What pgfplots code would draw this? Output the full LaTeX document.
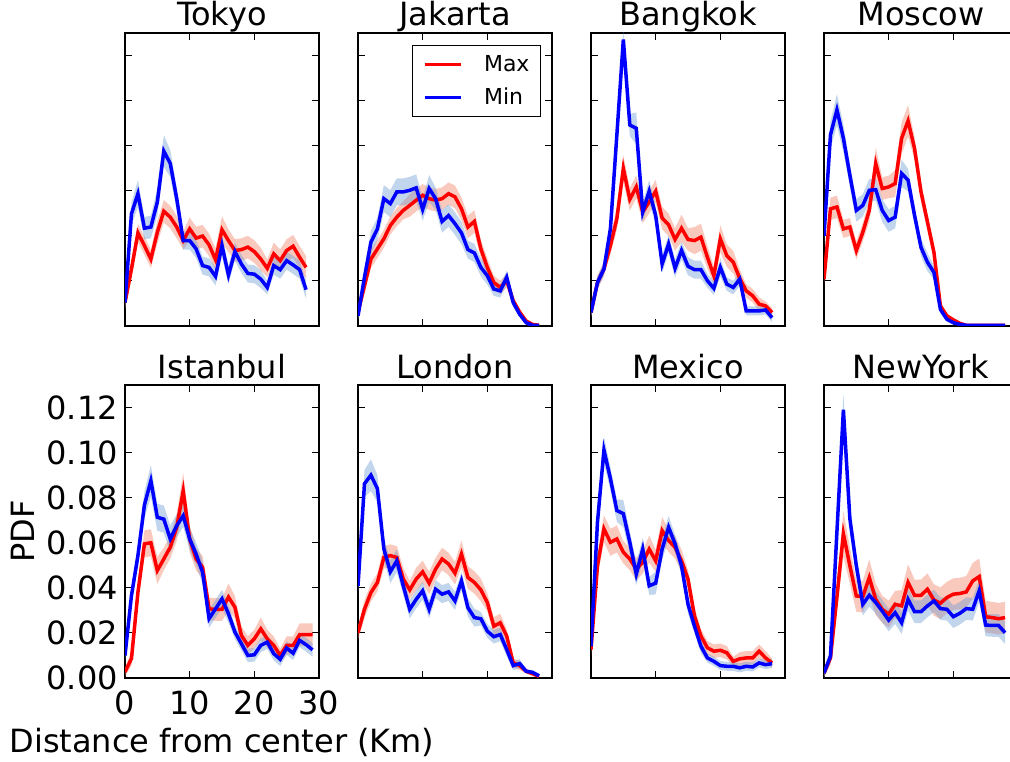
\documentclass[border=0pt]{standalone}
\usepackage{fontspec}
\setmainfont{DejaVu Sans}
\usepackage{pgfplots}
\usepackage{pgfplotstable}
\pgfplotsset{compat=1.18}
\usepgfplotslibrary{fillbetween}

\definecolor{redband}{RGB}{240,120,90}
\definecolor{blueband}{RGB}{100,150,210}

% columns: distance, Max mean, Max spread, Min mean, Min spread
\pgfplotstableread{
x mx mxe mn mne
0 0.0104 0.003 0.0104 0.003
1 0.0253 0.004 0.0498 0.005
2 0.0413 0.004 0.0587 0.006
3 0.0357 0.004 0.0434 0.005
4 0.0297 0.004 0.0439 0.005
5 0.0416 0.005 0.0550 0.006
6 0.0509 0.005 0.0776 0.007
7 0.0483 0.005 0.0721 0.006
8 0.0439 0.005 0.0565 0.005
9 0.0379 0.004 0.0379 0.004
10 0.0431 0.005 0.0379 0.004
11 0.0390 0.005 0.0342 0.004
12 0.0399 0.005 0.0268 0.004
13 0.0360 0.005 0.0260 0.004
14 0.0294 0.005 0.0220 0.004
15 0.0427 0.006 0.0357 0.005
16 0.0379 0.005 0.0226 0.004
17 0.0335 0.005 0.0330 0.004
18 0.0339 0.005 0.0275 0.004
19 0.0350 0.005 0.0233 0.004
20 0.0330 0.005 0.0230 0.004
21 0.0297 0.005 0.0208 0.004
22 0.0256 0.004 0.0171 0.003
23 0.0320 0.005 0.0268 0.004
24 0.0290 0.005 0.0250 0.004
25 0.0335 0.005 0.0290 0.004
26 0.0354 0.005 0.0271 0.004
27 0.0305 0.005 0.0250 0.004
28 0.0260 0.005 0.0161 0.004
}\tokyo

\pgfplotstableread{
x mx mxe mn mne
0 0.0060 0.002 0.0045 0.002
1 0.0178 0.003 0.0216 0.004
2 0.0297 0.004 0.0372 0.005
3 0.0342 0.004 0.0431 0.005
4 0.0387 0.004 0.0565 0.006
5 0.0446 0.004 0.0543 0.006
6 0.0483 0.004 0.0595 0.006
7 0.0513 0.004 0.0595 0.006
8 0.0535 0.005 0.0602 0.006
9 0.0558 0.005 0.0613 0.006
10 0.0580 0.005 0.0517 0.005
11 0.0565 0.005 0.0610 0.006
12 0.0558 0.005 0.0565 0.005
13 0.0565 0.005 0.0464 0.005
14 0.0587 0.005 0.0490 0.005
15 0.0573 0.005 0.0454 0.005
16 0.0520 0.005 0.0413 0.005
17 0.0439 0.005 0.0339 0.004
18 0.0464 0.005 0.0324 0.004
19 0.0342 0.004 0.0260 0.004
20 0.0260 0.004 0.0223 0.004
21 0.0193 0.003 0.0164 0.003
22 0.0171 0.003 0.0156 0.003
23 0.0201 0.003 0.0216 0.003
24 0.0112 0.002 0.0104 0.002
25 0.0062 0.001 0.0052 0.001
26 0.0022 0.001 0.0015 0.001
27 0.0007 0.0005 0.0003 0.0005
28 0.0003 0.0005 0.0003 0.0005
}\jakarta

\pgfplotstableread{
x mx mxe mn mne
0 0.0060 0.002 0.0060 0.002
1 0.0193 0.003 0.0193 0.003
2 0.0253 0.003 0.0253 0.003
3 0.0357 0.004 0.0431 0.004
4 0.0476 0.005 0.0848 0.004
5 0.0699 0.006 0.1271 0.004
6 0.0562 0.005 0.0892 0.005
7 0.0617 0.005 0.0877 0.007
8 0.0506 0.005 0.0506 0.004
9 0.0550 0.005 0.0598 0.005
10 0.0598 0.005 0.0491 0.004
11 0.0479 0.005 0.0275 0.004
12 0.0449 0.005 0.0364 0.004
13 0.0384 0.005 0.0256 0.004
14 0.0434 0.006 0.0335 0.004
15 0.0384 0.005 0.0265 0.004
16 0.0379 0.006 0.0250 0.004
17 0.0394 0.006 0.0250 0.004
18 0.0305 0.005 0.0201 0.003
19 0.0223 0.004 0.0167 0.003
20 0.0387 0.006 0.0260 0.004
21 0.0312 0.005 0.0186 0.003
22 0.0283 0.005 0.0171 0.003
23 0.0211 0.004 0.0208 0.003
24 0.0156 0.003 0.0067 0.002
25 0.0134 0.003 0.0067 0.002
26 0.0097 0.003 0.0067 0.002
27 0.0089 0.002 0.0071 0.002
28 0.0060 0.002 0.0037 0.002
}\bangkok

\pgfplotstableread{
x mx mxe mn mne
0 0.0208 0.003 0.0400 0.004
1 0.0520 0.005 0.0848 0.006
2 0.0528 0.005 0.0959 0.007
3 0.0431 0.004 0.0833 0.006
4 0.0439 0.004 0.0669 0.005
5 0.0335 0.004 0.0513 0.005
6 0.0416 0.004 0.0535 0.005
7 0.0513 0.005 0.0602 0.005
8 0.0721 0.007 0.0605 0.005
9 0.0610 0.005 0.0513 0.005
10 0.0617 0.005 0.0468 0.005
11 0.0632 0.006 0.0483 0.005
12 0.0833 0.007 0.0677 0.006
13 0.0910 0.007 0.0647 0.005
14 0.0788 0.005 0.0491 0.004
15 0.0595 0.004 0.0349 0.004
16 0.0461 0.004 0.0283 0.004
17 0.0327 0.003 0.0238 0.003
18 0.0089 0.002 0.0074 0.002
19 0.0045 0.001 0.0030 0.001
20 0.0027 0.001 0.0015 0.001
21 0.0012 0.0005 0.0007 0.0005
22 0.0003 0.0005 0.0003 0.0005
23 0.0003 0.0005 0.0003 0.0005
24 0.0003 0.0005 0.0003 0.0005
25 0.0003 0.0005 0.0003 0.0005
26 0.0003 0.0005 0.0003 0.0005
27 0.0003 0.0005 0.0003 0.0005
28 0.0003 0.0005 0.0003 0.0005
}\moscow

\pgfplotstableread{
x mx mxe mn mne
0 0.0027 0.002 0.0100 0.003
1 0.0086 0.003 0.0366 0.004
2 0.0380 0.004 0.0543 0.005
3 0.0595 0.006 0.0767 0.006
4 0.0600 0.006 0.0875 0.007
5 0.0477 0.006 0.0713 0.006
6 0.0528 0.005 0.0705 0.006
7 0.0580 0.005 0.0617 0.006
8 0.0669 0.006 0.0676 0.005
9 0.0830 0.008 0.0720 0.005
10 0.0617 0.006 0.0617 0.005
11 0.0528 0.005 0.0550 0.005
12 0.0491 0.005 0.0469 0.005
13 0.0307 0.005 0.0263 0.004
14 0.0304 0.005 0.0307 0.004
15 0.0304 0.005 0.0351 0.004
16 0.0359 0.006 0.0285 0.004
17 0.0314 0.005 0.0204 0.003
18 0.0189 0.004 0.0152 0.003
19 0.0145 0.004 0.0100 0.003
20 0.0174 0.004 0.0103 0.003
21 0.0218 0.005 0.0145 0.003
22 0.0174 0.004 0.0159 0.003
23 0.0145 0.004 0.0108 0.003
24 0.0100 0.003 0.0083 0.003
25 0.0145 0.004 0.0133 0.003
26 0.0145 0.004 0.0110 0.003
27 0.0192 0.005 0.0167 0.003
28 0.0192 0.005 0.0148 0.003
29 0.0192 0.005 0.0125 0.003
}\istanbul

\pgfplotstableread{
x mx mxe mn mne
0 0.0201 0.003 0.0409 0.004
1 0.0305 0.004 0.0862 0.006
2 0.0379 0.004 0.0900 0.007
3 0.0424 0.004 0.0840 0.006
4 0.0535 0.005 0.0573 0.005
5 0.0543 0.005 0.0471 0.005
6 0.0535 0.005 0.0520 0.005
7 0.0439 0.005 0.0409 0.004
8 0.0391 0.004 0.0305 0.004
9 0.0439 0.005 0.0349 0.004
10 0.0471 0.005 0.0387 0.004
11 0.0421 0.005 0.0305 0.004
12 0.0483 0.005 0.0394 0.004
13 0.0528 0.005 0.0372 0.004
14 0.0506 0.005 0.0382 0.004
15 0.0465 0.005 0.0342 0.004
16 0.0550 0.006 0.0431 0.004
17 0.0446 0.005 0.0312 0.004
18 0.0424 0.005 0.0268 0.004
19 0.0391 0.005 0.0263 0.003
20 0.0335 0.004 0.0208 0.003
21 0.0230 0.004 0.0183 0.003
22 0.0245 0.004 0.0193 0.003
23 0.0186 0.003 0.0126 0.003
24 0.0067 0.002 0.0055 0.002
25 0.0055 0.002 0.0064 0.002
26 0.0030 0.001 0.0030 0.001
27 0.0019 0.001 0.0025 0.001
28 0.0007 0.0005 0.0010 0.0005
}\london

\pgfplotstableread{
x mx mxe mn mne
0 0.0126 0.003 0.0141 0.003
1 0.0498 0.005 0.0691 0.005
2 0.0662 0.006 0.1011 0.006
3 0.0602 0.006 0.0885 0.005
4 0.0617 0.006 0.0743 0.005
5 0.0558 0.005 0.0729 0.006
6 0.0528 0.005 0.0602 0.005
7 0.0483 0.005 0.0461 0.005
8 0.0513 0.005 0.0572 0.005
9 0.0572 0.006 0.0409 0.004
10 0.0520 0.005 0.0421 0.005
11 0.0654 0.006 0.0572 0.005
12 0.0610 0.005 0.0669 0.005
13 0.0580 0.005 0.0595 0.004
14 0.0520 0.005 0.0498 0.004
15 0.0439 0.004 0.0327 0.004
16 0.0275 0.004 0.0230 0.003
17 0.0186 0.003 0.0141 0.003
18 0.0134 0.003 0.0089 0.002
19 0.0119 0.003 0.0074 0.002
20 0.0123 0.003 0.0055 0.002
21 0.0112 0.003 0.0052 0.002
22 0.0074 0.002 0.0052 0.002
23 0.0085 0.003 0.0045 0.002
24 0.0089 0.003 0.0052 0.002
25 0.0089 0.003 0.0049 0.002
26 0.0119 0.003 0.0067 0.002
27 0.0089 0.003 0.0059 0.002
28 0.0067 0.002 0.0064 0.002
}\mexico

\pgfplotstableread{
x mx mxe mn mne
0 0.0022 0.002 0.0022 0.002
1 0.0089 0.003 0.0097 0.003
2 0.0360 0.006 0.0650 0.006
3 0.0640 0.010 0.1190 0.007
4 0.0498 0.008 0.0706 0.006
5 0.0364 0.007 0.0498 0.005
6 0.0361 0.007 0.0327 0.005
7 0.0446 0.008 0.0367 0.005
8 0.0349 0.007 0.0335 0.005
9 0.0305 0.006 0.0297 0.005
10 0.0283 0.006 0.0257 0.005
11 0.0327 0.006 0.0290 0.005
12 0.0320 0.007 0.0245 0.005
13 0.0424 0.008 0.0349 0.005
14 0.0367 0.007 0.0294 0.005
15 0.0367 0.007 0.0294 0.005
16 0.0394 0.007 0.0320 0.005
17 0.0346 0.007 0.0342 0.005
18 0.0332 0.007 0.0308 0.005
19 0.0357 0.007 0.0305 0.005
20 0.0372 0.007 0.0272 0.005
21 0.0375 0.007 0.0287 0.005
22 0.0382 0.007 0.0308 0.005
23 0.0431 0.008 0.0305 0.005
24 0.0450 0.008 0.0387 0.005
25 0.0272 0.007 0.0235 0.005
26 0.0268 0.007 0.0233 0.005
27 0.0263 0.007 0.0233 0.005
28 0.0268 0.007 0.0201 0.005
}\newyork

\newcommand{\city}[1]{%
  \addplot[draw=none, forget plot, name path=ru] table[x=x, y expr=\thisrow{mx}+\thisrow{mxe}] {#1};
  \addplot[draw=none, forget plot, name path=rl] table[x=x, y expr=\thisrow{mx}-\thisrow{mxe}] {#1};
  \addplot[draw=none, forget plot, name path=bu] table[x=x, y expr=\thisrow{mn}+\thisrow{mne}] {#1};
  \addplot[draw=none, forget plot, name path=bl] table[x=x, y expr=\thisrow{mn}-\thisrow{mne}] {#1};
  \addplot[fill=redband, fill opacity=0.4, draw=none, forget plot] fill between[of=ru and rl];
  \addplot[fill=blueband, fill opacity=0.4, draw=none, forget plot] fill between[of=bu and bl];
  \addplot[red, line width=3.5pt] table[x=x, y=mx] {#1};
  \addplot[blue, line width=3.5pt] table[x=x, y=mn] {#1};
}

\pgfplotsset{
  panel/.style={
    scale only axis, width=194pt, height=293pt,
    xmin=0, xmax=30, ymin=0, ymax=0.13,
    xtick={0,10,20,30}, ytick={0,0.02,0.04,0.06,0.08,0.1,0.12},
    xticklabels={}, yticklabels={},
    tick align=inside, major tick length=7pt,
    tick style={black, line width=1pt},
    axis line style={black, line width=1.3pt},
    title style={font=\fontsize{32}{38}\selectfont, anchor=base, at={(0.5,1)}, yshift=1pt},
    every tick label/.append style={font=\fontsize{32}{38}\selectfont, inner sep=0pt},
    label style={font=\fontsize{32}{38}\selectfont},
    xticklabel shift=13pt, yticklabel shift=7pt,
  },
}

\begin{document}
\begin{tikzpicture}
  \begin{axis}[panel, at={(125pt,-33pt)}, anchor=north west, title={Tokyo}]
    \city{\tokyo}
  \end{axis}
  \begin{axis}[panel, at={(358pt,-33pt)}, anchor=north west, title={Jakarta},
      legend style={at={(1,1)}, anchor=north east, xshift=-11pt, yshift=-12pt,
        draw=black, line width=1pt, font=\fontsize{22}{26}\selectfont,
        inner xsep=11pt, inner ysep=10pt, row sep=15pt, column sep=22pt,
        nodes={inner sep=0pt}},
      legend cell align=left,
      legend image code/.code={\draw[#1, line width=3pt] (0pt,0pt) -- (36pt,0pt);}]
    \city{\jakarta}
    \legend{Max, Min}
  \end{axis}
  \begin{axis}[panel, at={(591pt,-33pt)}, anchor=north west, title={Bangkok}]
    \city{\bangkok}
  \end{axis}
  \begin{axis}[panel, at={(824pt,-33pt)}, anchor=north west, title={Moscow}]
    \city{\moscow}
  \end{axis}
  \begin{axis}[panel, at={(125pt,-385pt)}, anchor=north west, title={Istanbul},
      xticklabels={0,10,20,30},
      yticklabels={0.00,0.02,0.04,0.06,0.08,0.10,0.12},
      xlabel={Distance from center (Km)}, ylabel={PDF},
      xlabel style={at={(axis description cs:0.5,-0.255)}, anchor=base},
      ylabel style={at={(axis description cs:-0.464,0.5)}, anchor=base}]
    \city{\istanbul}
  \end{axis}
  \begin{axis}[panel, at={(358pt,-385pt)}, anchor=north west, title={London}]
    \city{\london}
  \end{axis}
  \begin{axis}[panel, at={(591pt,-385pt)}, anchor=north west, title={Mexico}]
    \city{\mexico}
  \end{axis}
  \begin{axis}[panel, at={(824pt,-385pt)}, anchor=north west, title={NewYork}]
    \city{\newyork}
  \end{axis}
  \pgfresetboundingbox
  \path[use as bounding box] (0pt,0pt) rectangle (1010pt,-762pt);
\end{tikzpicture}
\end{document}
